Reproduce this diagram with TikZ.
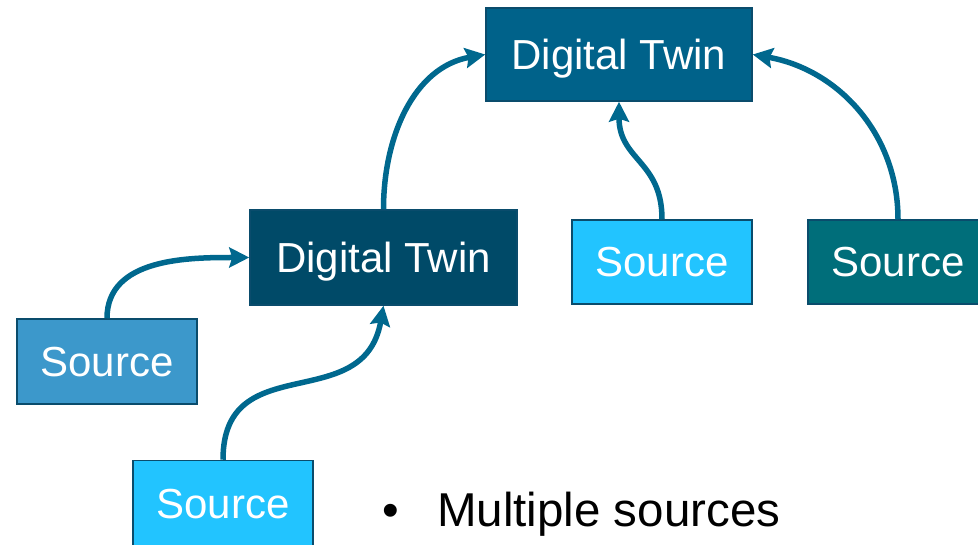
\documentclass[tikz,border=0pt]{standalone}
\usepackage{fontspec}
\setmainfont{Liberation Sans}
\usepackage{xcolor}
\usepackage{tikz}
\usetikzlibrary{arrows.meta}
\definecolor{twintop}{RGB}{0,98,138}
\definecolor{twinmid}{RGB}{0,74,104}
\definecolor{srcsteel}{RGB}{60,152,203}
\definecolor{srccyan}{RGB}{34,196,255}
\definecolor{srcteal}{RGB}{0,110,122}
\definecolor{boxedge}{RGB}{10,76,108}
\definecolor{feedblue}{RGB}{0,104,142}
\tikzstyle{box} = [draw=boxedge, line width=1.5pt, text=white, inner sep=0pt, font=\fontsize{42}{42}\selectfont, text height=30pt, text depth=0pt]
\tikzstyle{feed} = [line width=5.5pt, color=feedblue, -{Stealth[length=20pt,width=20pt,inset=3pt]}]

\begin{document}
\begin{tikzpicture}[x=1pt,y=1pt]
        \useasboundingbox (0,0) rectangle (978,544);
        % Twins
        \draw (619,489.5) node[box, fill=twintop, minimum width=266pt, minimum height=93pt] (dttop) {Digital Twin};
        \draw (383.5,286.5) node[box, fill=twinmid, minimum width=267pt, minimum height=95pt] (dtmid) {Digital Twin};
        % Sources
        \draw (107,182.5) node[box, fill=srcsteel, minimum width=180pt, minimum height=85pt] (srcA) {Source};
        \draw (223,41) node[box, fill=srccyan, minimum width=180pt, minimum height=85pt] (srcB) {Source};
        \draw (662,282) node[box, fill=srccyan, minimum width=180pt, minimum height=84pt] (srcC) {Source};
        \draw (898,282) node[box, fill=srcteal, minimum width=180pt, minimum height=84pt] (srcD) {Source};
        % note
        \draw (379,18) node[anchor=base west, font=\fontsize{47.5}{47.5}\selectfont] (note) {\textbullet\hspace*{38pt}Multiple sources};
        % edges
        \draw[feed] (srcA.north) to[out=90, in=180] (dtmid.west);
        \draw[feed] (srcB.north) to[out=90, in=-100, looseness=1.3] (dtmid.south);
        \draw[feed] (dtmid.north) to[out=90, in=190] (dttop.west);
        \draw[feed] (srcC.north) to[out=90, in=-90, looseness=1.2] (dttop.south);
        \draw[feed] (srcD.north) to[out=90, in=-10] (dttop.east);
    \end{tikzpicture}
\end{document}
